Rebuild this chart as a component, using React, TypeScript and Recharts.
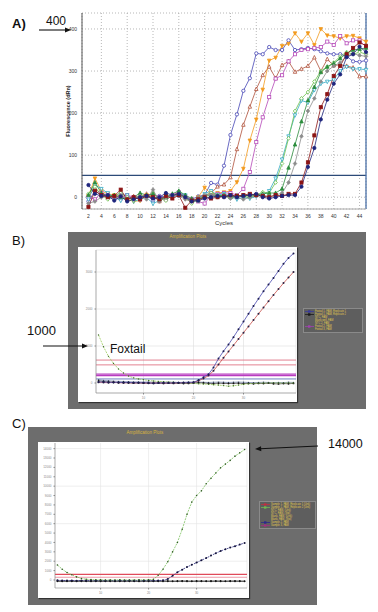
import React from "react"
import { LineChart, Line, XAxis, YAxis, CartesianGrid, ReferenceLine, Legend } from "recharts"

// ---- Panel A: cycles 2..45, fluorescence (dRn)
const cyclesA = [2, 3, 4, 5, 6, 7, 8, 9, 10, 11, 12, 13, 14, 15, 16, 17, 18, 19, 20, 21, 22, 23, 24, 25, 26, 27, 28, 29, 30, 31, 32, 33, 34, 35, 36, 37, 38, 39, 40, 41, 42, 43, 44, 45]
const blueA = [-10, 15, 5, 0, -5, 8, 2, -3, 0, 5, -8, 3, 0, 5, 3, 0, -5, 2, 5, 34, 30, 75, 148, 197, 253, 283, 342, 340, 357, 350, 350, 373, 350, 352, 355, 352, 347, 342, 340, 340, 335, 323, 322, 325]
const brownA = [5, 20, 8, 3, 0, 5, -5, 2, 0, 8, 3, -10, 0, 5, 10, 2, -8, -5, 5, 10, 25, 30, 47, 114, 172, 215, 257, 290, 310, 283, 314, 323, 298, 305, 312, 332, 300, 328, 313, 315, 312, 308, 287, 287]
const orangeA = [3, 45, 15, 8, 5, 0, -5, -10, -8, 5, 2, -5, 0, 3, 8, -3, -12, 0, 23, 8, 10, 12, 15, 36, 68, 135, 185, 256, 325, 332, 360, 365, 390, 370, 390, 362, 400, 385, 383, 378, 383, 384, 378, 370]
const magentaA = [0, -5, 10, 5, 0, -3, 5, 0, -5, 3, 8, 0, -5, 5, 12, 3, -5, -10, -15, 5, 8, 10, 10, 5, 20, 60, 131, 190, 238, 282, 290, 323, 340, 350, 352, 355, 357, 370, 362, 383, 366, 373, 373, 357]
const greenA = [5, 35, 10, 3, 5, 0, -5, 0, 10, 5, 8, -5, 0, 8, 15, 5, -3, -8, 2, 5, 3, 5, 0, 2, 5, 3, 5, 8, 10, 10, 20, 70, 125, 180, 230, 262, 297, 310, 318, 330, 342, 350, 352, 355]
const tealA = [-5, 30, 20, 10, 0, -8, 5, -10, -5, 0, -15, -8, 5, 0, 10, 5, -10, -5, 8, 15, 5, 8, 3, -5, 0, -3, 2, 5, 15, 45, 90, 145, 195, 230, 225, 255, 270, 275, 280, 300, 310, 305, 305, 303]
const limeA = [8, 25, 5, -5, 3, 10, 0, -8, 5, 0, 10, -3, -8, 5, 8, 0, -15, -5, 3, 10, 5, 3, 0, 5, 2, 0, 5, 12, 10, 35, 80, 140, 205, 235, 250, 275, 300, 310, 320, 335, 345, 340, 345, 340]
const grayA = [-15, -10, 0, 5, -5, 5, -5, 0, 3, -5, 18, -10, 0, 5, 3, -5, -10, 0, 5, 5, 0, 3, -3, 0, -5, 0, 3, 5, 2, 5, 10, 35, 80, 145, 205, 235, 275, 300, 312, 320, 335, 342, 337, 335]
const darkRedA = [-23, 15, 5, 0, 3, 18, -5, 0, -5, 3, 0, -5, 3, -3, 5, -25, -8, -5, 0, -3, 0, 2, 5, 3, 5, 8, 5, 3, 0, 5, 3, 8, 8, 35, 83, 147, 214, 245, 288, 312, 340, 355, 368, 360]
const navyA = [29, 8, 3, 5, -8, 2, -10, -5, 0, 3, -3, 0, 10, 5, 8, 0, -10, -8, -3, 0, 3, 0, 5, 0, 3, 5, 8, 0, -3, 0, 3, 5, 5, 25, 72, 117, 185, 232, 270, 292, 333, 340, 358, 345]
const xTicksA = [2, 4, 6, 8, 10, 12, 14, 16, 18, 20, 22, 24, 26, 28, 30, 32, 34, 36, 38, 40, 42, 44]
const yTicksA = [0, 100, 200, 300, 400]
const thresholdA = 52

// ---- Panel B: Foxtail run
const cyclesB = [1, 2, 3, 4, 5, 6, 7, 8, 9, 10, 11, 12, 13, 14, 15, 16, 17, 18, 19, 20, 21, 22, 23, 24, 25, 26, 27, 28, 29, 30, 31, 32, 33, 34, 35, 36, 37, 38, 39, 40]
const blueB = [30, 25, 20, 15, 20, 10, 15, 10, 5, 10, 0, -5, 0, 5, 0, 5, 10, 5, 15, 20, 80, 155, 235, 420, 660, 860, 1040, 1240, 1450, 1660, 1870, 2080, 2280, 2480, 2660, 2840, 3030, 3220, 3380, 3500]
const redB = [20, 15, 10, 20, 10, 5, 10, 0, 5, 0, -5, 0, 5, -5, 0, 0, 5, 10, 5, 15, 60, 120, 200, 330, 500, 680, 850, 1020, 1190, 1360, 1530, 1700, 1870, 2040, 2210, 2380, 2540, 2700, 2850, 3000]
const greenB = [1300, 980, 720, 530, 380, 270, 190, 140, 110, 90, 70, 55, 45, 35, 25, 20, 10, 5, 0, -10, -20, -25, -35, -45, -55, -70, -85, -75, -55, -35, -20, -10, -5, 0, 0, 5, 0, 0, 5, 0]
const blackB = [60, 40, 30, 20, 10, 15, 5, 0, 5, -5, 0, -10, -5, -10, -5, -10, -5, -15, -10, -5, 10, 0, -10, -15, -5, -10, -15, -10, -5, -15, -10, -20, -10, -15, -5, -20, -25, -15, -20, -10]
const slateB = [90, 70, 60, 50, 45, 40, 35, 30, 30, 25, 30, 20, 25, 20, 25, 20, 15, 20, 25, 20, 25, 20, 15, 20, 25, 20, 15, 20, 25, 20, 15, 10, 15, 20, 15, 10, 15, 10, 20, 15]
const yTicksB = [0, 1000, 2000, 3000]
const xTicksB = [10, 20, 30]
const thresholdsB = [620, 490]
const thresholdsB2 = [240, 200]

// ---- Panel C
const cyclesC = [1, 2, 3, 4, 5, 6, 7, 8, 9, 10, 11, 12, 13, 14, 15, 16, 17, 18, 19, 20, 21, 22, 23, 24, 25, 26, 27, 28, 29, 30, 31, 32, 33, 34, 35, 36, 37, 38, 39, 40]
const greenC = [1600, 1150, 800, 550, 330, 160, 80, 40, 20, 10, 0, -10, 0, 10, 0, -10, 0, 10, 0, 20, 60, 500, 1150, 1950, 3000, 4000, 5400, 7000, 8300, 9000, 9500, 10250, 10850, 11400, 11950, 12350, 12750, 13200, 13550, 13900]
const navyC = [-40, -50, -60, -60, -70, -60, -70, -60, -70, -60, -70, -60, -70, -60, -70, -60, -70, -60, -70, -60, -70, -60, -40, 100, 450, 830, 1100, 1380, 1620, 1850, 2100, 2330, 2600, 2850, 3080, 3280, 3450, 3600, 3770, 3950]
const blackC = [-100, -110, -100, -120, -110, -100, -120, -110, -100, -110, -120, -100, -110, -120, -110, -100, -110, -120, -100, -110, -120, -110, -100, -110, -120, -110, -100, -110, -120, -100, -110, -120, -110, -100, -110, -120, -110, -100, -110, -120]
const grayC = [-160, -170, -160, -150, -170, -160, -150, -170, -160, -170, -160, -150, -170, -160, -170, -160, -150, -170, -160, -170, -160, -150, -170, -160, -170, -160, -150, -170, -160, -170, -160, -150, -170, -160, -170, -160, -150, -170, -160, -170]
const yTicksC = [0, 1000, 2000, 3000, 4000, 5000, 6000, 7000, 8000, 9000, 10000, 11000, 12000, 13000, 14000]
const gridC = [2000, 4000, 6000, 8000, 10000, 12000, 14000]
const xTicksC = [10, 20, 30]
const thresholdsC = [600, 290]

const legendB = [
  { label: "Foxtail 1, FAM, Replicate 1", color: "#3a3a9a" },
  { label: "Foxtail 1, FAM, Replicate 2", color: "#1a1a1a" },
  { label: "NTC, FAM", color: "" },
  { label: "Blank well, FAM", color: "" },
  { label: "NTC 2, FAM", color: "" },
  { label: "Foxtail 2, FAM", color: "#a040b0" },
  { label: "Foxtail 3, FAM", color: "" },
]
const legendC = [
  { label: "Sample 1, FAM, Replicate 1 (Unk)", color: "#c03040" },
  { label: "Sample 1, FAM, Replicate 2 (Unk)", color: "#70b850" },
  { label: "NTC, FAM, (Unk)", color: "" },
  { label: "NTC, FAM, (Std)", color: "" },
  { label: "Blank, FAM, (Unk)", color: "" },
  { label: "Blank, FAM, (Std)", color: "" },
  { label: "Sample 2, FAM", color: "#2a2a8a" },
  { label: "Sample 3, FAM", color: "#a03080" },
]

const seriesA = [
  { key: "blue", values: blueA, color: "#4545b5", shape: "circle", filled: false },
  { key: "brown", values: brownA, color: "#b0503a", shape: "up", filled: false },
  { key: "orange", values: orangeA, color: "#f39a1e", shape: "down", filled: true },
  { key: "magenta", values: magentaA, color: "#b548b8", shape: "square", filled: false },
  { key: "teal", values: tealA, color: "#33aac4", shape: "down", filled: false },
  { key: "lime", values: limeA, color: "#6cbf4c", shape: "diamond", filled: false },
  { key: "green", values: greenA, color: "#2b8c3c", shape: "up", filled: true },
  { key: "gray", values: grayA, color: "#8c8c8c", shape: "diamond", filled: true },
  { key: "darkred", values: darkRedA, color: "#8c1414", shape: "square", filled: true },
  { key: "navy", values: navyA, color: "#1e257c", shape: "circle", filled: true },
]

const rowsA = cyclesA.map((c, i) => {
  const r: Record<string, number> = { cycle: c }
  seriesA.forEach((s) => {
    r[s.key] = s.values[i]
  })
  return r
})
const rowsB = cyclesB.map((c, i) => ({ cycle: c, blue: blueB[i], red: redB[i], green: greenB[i], black: blackB[i], slate: slateB[i] }))
const rowsC = cyclesC.map((c, i) => ({ cycle: c, green: greenC[i], navy: navyC[i], black: blackC[i], gray: grayC[i] }))

function shapeDot(shape: string, color: string, filled: boolean, s = 1.75) {
  return (props: any) => {
    const { cx, cy, index } = props
    const k = `m-${index}`
    if (cx == null || cy == null) return <g key={k} />
    const fill = filled ? color : "#ffffff"
    const common = { fill, stroke: color, strokeWidth: 0.8 }
    if (shape === "up")
      return <polygon key={k} points={`${cx},${cy - s * 1.2} ${cx - s},${cy + s * 0.8} ${cx + s},${cy + s * 0.8}`} {...common} />
    if (shape === "down")
      return <polygon key={k} points={`${cx},${cy + s * 1.2} ${cx - s},${cy - s * 0.8} ${cx + s},${cy - s * 0.8}`} {...common} />
    if (shape === "square")
      return <rect key={k} x={cx - s * 0.9} y={cy - s * 0.9} width={s * 1.8} height={s * 1.8} {...common} />
    if (shape === "diamond")
      return <polygon key={k} points={`${cx},${cy - s * 1.1} ${cx + s},${cy} ${cx},${cy + s * 1.1} ${cx - s},${cy}`} {...common} />
    return <circle key={k} cx={cx} cy={cy} r={s * 0.95} {...common} />
  }
}

function smallDot(color: string, r = 0.9) {
  return (props: any) => {
    const { cx, cy, index } = props
    if (cx == null || cy == null) return <g key={`d-${index}`} />
    return <circle key={`d-${index}`} cx={cx} cy={cy} r={r} fill={color} />
  }
}

function legendBox(items: { label: string; color: string }[]) {
  return () => (
    <div
      style={{
        background: "#5e5e5e",
        border: "0.5px solid #8a8a8a",
        padding: "1px 1px",
        fontFamily: "Arial, sans-serif",
        fontSize: 2.6,
        lineHeight: "3px",
        color: "#e0c850",
      }}
    >
      {items.map((it) => (
        <div key={it.label} style={{ display: "flex", alignItems: "center", height: 3 }}>
          <svg width={9} height={3} style={{ flex: "none" }}>
            {it.color && <line x1={0} y1={1.5} x2={9} y2={1.5} stroke={it.color} strokeWidth={0.8} />}
            {it.color && <rect x={3} y={0.3} width={2.4} height={2.4} fill={it.color} />}
          </svg>
          <span style={{ whiteSpace: "nowrap", marginLeft: 1 }}>{it.label}</span>
        </div>
      ))}
    </div>
  )
}

const tinyTick = { fontSize: 3, fill: "#8a8a8a", fontFamily: "Arial, sans-serif" }
const labelFont = "'Liberation Sans', Arial, sans-serif"

function PanelA() {
  return (
    <div style={{ position: "absolute", left: 0, top: 0 }}>
      <LineChart width={378} height={228} data={rowsA} margin={{ top: 13, right: 12, left: 0, bottom: 0 }}>
        <CartesianGrid stroke="#9a9a9a" strokeDasharray="1 2" strokeWidth={0.7} />
        <XAxis
          dataKey="cycle"
          type="number"
          domain={[1, 45]}
          ticks={xTicksA}
          height={19}
          tick={{ fontSize: 5, fill: "#333", fontFamily: labelFont }}
          tickLine={false}
          axisLine={{ stroke: "#aaa" }}
          tickSize={3}
          label={{ value: "Cycles", position: "insideBottom", offset: 3, fontSize: 6, fill: "#333", fontFamily: labelFont }}
        />
        <YAxis
          type="number"
          domain={[-28, 438]}
          ticks={yTicksA}
          width={82}
          tick={{ fontSize: 5, fill: "#333", fontFamily: labelFont }}
          tickLine={false}
          tickSize={3}
          axisLine={{ stroke: "#555" }}
          label={{ value: "Fluorescence (dRn)", angle: -90, position: "center", dx: 27, fontSize: 5.5, fill: "#222", fontWeight: 700, fontFamily: labelFont }}
        />
        <ReferenceLine y={thresholdA} stroke="#2c4a78" strokeWidth={1.3} />
        <ReferenceLine x={45} stroke="#4a70a8" strokeWidth={1.3} />
        {seriesA.map((s) => (
          <Line
            key={s.key}
            dataKey={s.key}
            stroke={s.color}
            strokeWidth={0.8}
            dot={shapeDot(s.shape, s.color, s.filled)}
            activeDot={false}
            isAnimationActive={false}
            type="linear"
          />
        ))}
      </LineChart>
    </div>
  )
}

function PanelB() {
  return (
    <div style={{ position: "absolute", left: 68, top: 232, width: 298, height: 177, background: "#6d6d6d" }}>
      <div style={{ position: "absolute", left: 10, top: 15, width: 219, height: 155, background: "#fff", boxShadow: "1px 1px 1px #333" }} />
      <div style={{ position: "absolute", left: 0, top: 2, width: 240, textAlign: "center", fontSize: 4.5, color: "#d8b440", fontFamily: "Arial, sans-serif" }}>
        Amplification Plots
      </div>
      <div style={{ position: "absolute", left: 0, top: 0 }}>
        <LineChart width={298} height={177} data={rowsB} margin={{ top: 18, right: 70, left: 10, bottom: 6 }}>
          <CartesianGrid stroke="#dedede" strokeWidth={0.6} />
          <XAxis dataKey="cycle" type="number" domain={[0.5, 40.5]} ticks={xTicksB} height={10} tick={tinyTick} tickSize={1.5} axisLine={{ stroke: "#888", strokeWidth: 0.6 }} tickLine={{ stroke: "#888" }} />
          <YAxis type="number" domain={[-270, 3595]} ticks={yTicksB} width={18} tick={tinyTick} tickSize={1.5} axisLine={{ stroke: "#888", strokeWidth: 0.6 }} tickLine={{ stroke: "#888" }} />
          {thresholdsB.map((t) => (
            <ReferenceLine key={t} y={t} stroke="#e07484" strokeWidth={0.9} />
          ))}
          {thresholdsB2.map((t) => (
            <ReferenceLine key={t} y={t} stroke="#b83cc0" strokeWidth={1.4} />
          ))}
          <ReferenceLine y={110} stroke="#6f80c0" strokeWidth={1} />
          <Line dataKey="slate" stroke="#7080a8" strokeWidth={0.7} dot={smallDot("#404860", 0.7)} activeDot={false} isAnimationActive={false} />
          <Line dataKey="black" stroke="#333" strokeWidth={0.7} dot={smallDot("#111", 0.9)} activeDot={false} isAnimationActive={false} />
          <Line dataKey="green" stroke="#9acb5a" strokeWidth={0.8} strokeDasharray="2 1" dot={smallDot("#3f6a2a", 0.7)} activeDot={false} isAnimationActive={false} />
          <Line dataKey="red" stroke="#c8504a" strokeWidth={0.8} dot={smallDot("#2a2040", 1)} activeDot={false} isAnimationActive={false} />
          <Line dataKey="blue" stroke="#4a4ab0" strokeWidth={0.8} dot={smallDot("#1c1c50", 1)} activeDot={false} isAnimationActive={false} />
          <Legend content={legendBox(legendB)} layout="horizontal" verticalAlign="middle" align="center" wrapperStyle={{ left: 235, top: 76, width: 60, height: "auto" }} />
        </LineChart>
      </div>
    </div>
  )
}

function PanelC() {
  return (
    <div style={{ position: "absolute", left: 28, top: 427, width: 289, height: 178, background: "#6d6d6d" }}>
      <div style={{ position: "absolute", left: 10, top: 15, width: 211, height: 156, background: "#fff", boxShadow: "1px 1px 1px #333" }} />
      <div style={{ position: "absolute", left: 0, top: 3, width: 234, textAlign: "center", fontSize: 4.5, color: "#d8b440", fontFamily: "Arial, sans-serif" }}>
        Amplification Plots
      </div>
      <div style={{ position: "absolute", left: 0, top: 0 }}>
        <LineChart width={289} height={178} data={rowsC} margin={{ top: 16, right: 70, left: 10, bottom: 6 }}>
          <CartesianGrid stroke="#e2e2e2" strokeWidth={0.6} horizontalValues={gridC} />
          <XAxis dataKey="cycle" type="number" domain={[0.5, 40.5]} ticks={xTicksC} height={11} tick={tinyTick} tickSize={1.5} axisLine={{ stroke: "#888", strokeWidth: 0.6 }} tickLine={{ stroke: "#888" }} />
          <YAxis type="number" domain={[-855, 14600]} ticks={yTicksC} width={17} tick={tinyTick} tickSize={1.5} axisLine={{ stroke: "#888", strokeWidth: 0.6 }} tickLine={{ stroke: "#888" }} />
          {thresholdsC.map((t, i) => (
            <ReferenceLine key={t} y={t} stroke={i === 0 ? "#e04a5a" : "#e88090"} strokeWidth={i === 0 ? 1.2 : 0.8} />
          ))}
          <Line dataKey="gray" stroke="#555" strokeWidth={0.7} dot={smallDot("#222", 0.8)} activeDot={false} isAnimationActive={false} />
          <Line dataKey="black" stroke="#333" strokeWidth={0.8} dot={smallDot("#111", 0.9)} activeDot={false} isAnimationActive={false} />
          <Line dataKey="navy" stroke="#2a2a80" strokeWidth={0.8} strokeDasharray="2 1" dot={smallDot("#15153a", 1)} activeDot={false} isAnimationActive={false} />
          <Line dataKey="green" stroke="#7cc060" strokeWidth={0.8} strokeDasharray="2 1" dot={smallDot("#2f5a22", 0.8)} activeDot={false} isAnimationActive={false} />
          <Legend content={legendBox(legendC)} layout="horizontal" verticalAlign="middle" align="center" wrapperStyle={{ left: 231, top: 74, width: 57, height: "auto" }} />
        </LineChart>
      </div>
    </div>
  )
}

function Annotations() {
  const txt = { position: "absolute" as const, fontFamily: labelFont, color: "#111", lineHeight: 1 }
  return (
    <>
      <div style={{ ...txt, left: 12, top: 17, fontSize: 13, fontWeight: 700 }}>A)</div>
      <div style={{ ...txt, left: 46, top: 15, fontSize: 12 }}>400</div>
      <div style={{ ...txt, left: 12, top: 234, fontSize: 13 }}>B)</div>
      <div style={{ ...txt, left: 27, top: 324, fontSize: 13 }}>1000</div>
      <div style={{ ...txt, left: 110, top: 343, fontSize: 12 }}>Foxtail</div>
      <div style={{ ...txt, left: 12, top: 417, fontSize: 13 }}>C)</div>
      <div style={{ ...txt, left: 328, top: 438, fontSize: 12.5 }}>14000</div>
      <svg width={378} height={612} style={{ position: "absolute", left: 0, top: 0, pointerEvents: "none" }}>
        <line x1={39} y1={30} x2={66} y2={30} stroke="#111" strokeWidth={1.1} />
        <polygon points="71,30 65,27.5 65,32.5" fill="#111" />
        <line x1={43} y1={346} x2={83} y2={346} stroke="#111" strokeWidth={1.1} />
        <polygon points="88,346 82,343.5 82,348.5" fill="#111" />
        <line x1={318} y1={446} x2={260} y2={448.8} stroke="#111" strokeWidth={1.1} />
        <polygon points="255,449 261,446.2 261.3,451.2" fill="#111" />
      </svg>
    </>
  )
}

export default function App() {
  return (
    <div style={{ position: "fixed", left: 0, top: 0, width: 378, height: 612, background: "#fff", overflow: "hidden" }}>
      <PanelA />
      <PanelB />
      <PanelC />
      <Annotations />
    </div>
  )
}
